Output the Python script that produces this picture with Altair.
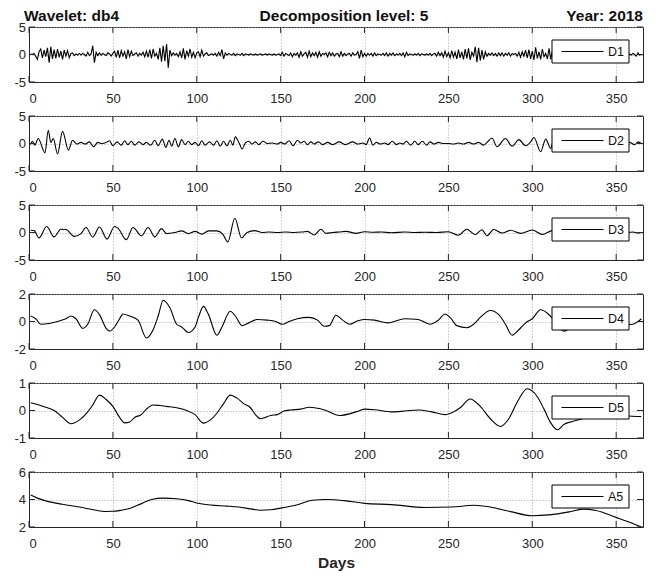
import altair as alt
import pandas as pd

title_left = "Wavelet: db4"
title_mid = "Decomposition level: 5"
title_right = "Year: 2018"
x_title = "Days"
series_names = ["D1", "D2", "D3", "D4", "D5", "A5"]
x_ticks = [0, 50, 100, 150, 200, 250, 300, 350]
x_domain = [0, 366]
y_domains = [[-5, 5], [-5, 5], [-5, 5], [-2, 2], [-1, 1], [2, 6]]
y_ticks = [[-5, 0, 5], [-5, 0, 5], [-5, 0, 5], [-2, 0, 2], [-1, 0, 1], [2, 4, 6]]

# D1: daily values
d1_vals = [
    0.1, 0.0, 0.2, -0.3, -0.9, 0.5, 1.0, -0.6, 0.8, -0.4,
    1.2, -1.5, 1.4, -0.8, 0.9, -0.7, 1.0, -0.5, 0.6, -0.9,
    0.8, -0.3, 0.7, -0.6, 0.2, 0.3, -0.2, 0.1, -0.1, 0.2,
    -0.1, 0.2, 0.0, -0.3, 0.4, -0.2, 0.1, 1.6, -1.5, 0.4,
    -0.2, 0.3, -0.1, 0.2, 0.0, -0.2, 0.3, 0.1, -0.3, 0.2,
    0.6, -0.5, 0.8, -0.6, 0.7, -0.3, 0.5, -0.8, 0.9, -0.4,
    0.6, -0.2, 0.1, 0.3, -0.3, 0.2, -0.1, 0.4, -0.4, 0.6,
    -0.5, 0.9, -0.7, 1.0, -0.3, 0.2, -0.9, 1.2, -1.3, 1.6,
    -1.2, 1.9, -2.4, 0.8, -0.2, 0.3, -0.1, 0.2, -0.4, 0.5,
    -0.6, 1.1, -0.9, 0.7, -0.3, 1.0, -0.5, 0.4, -0.6, 0.3,
    0.5, -0.4, 0.8, -0.3, 0.1, 0.3, -0.2, 0.0, 0.1, -0.1,
    0.2, -0.3, 0.4, -0.2, 0.9, -0.8, 0.3, -0.1, 0.2, 0.0,
    -0.1, 0.2, -0.2, 0.1, 0.0, -0.1, 0.2, -0.2, 0.1, 0.0,
    -0.1, 0.1, 0.0, -0.1, 0.1, -0.1, 0.0, 0.1, -0.1, 0.0,
    0.1, -0.1, 0.1, 0.0, -0.1, 0.1, -0.1, 0.0, 0.1, -0.2,
    0.4, -0.3, 0.2, 0.0, -0.2, 0.3, -0.4, 0.2, -0.1, 0.3,
    -0.5, 0.5, -0.3, 0.1, 0.4, -0.5, 0.6, -0.4, 0.3, -0.2,
    0.4, -0.5, 0.5, -0.3, 0.2, 0.0, 0.3, -0.4, 0.4, -0.2,
    0.3, -0.3, 0.1, 0.2, -0.4, 0.5, -0.3, 0.2, -0.2, 0.1,
    0.2, -0.3, 0.3, -0.1, 0.0, 0.5, -0.7, 0.8, -0.4, 0.2,
    -0.3, 0.2, -0.1, 0.2, -0.3, 0.3, -0.2, 0.1, 0.0, -0.1,
    0.2, -0.2, 0.3, -0.3, 0.2, -0.1, 0.3, -0.2, 0.1, -0.1,
    0.2, -0.2, 0.3, -0.4, 0.4, -0.2, 0.1, 0.0, -0.1, 0.1,
    -0.1, 0.2, -0.2, 0.1, 0.0, -0.1, 0.1, -0.1, 0.2, -0.2,
    0.1, 0.2, -0.3, 0.4, -0.2, 0.3, -0.5, 0.6, -0.4, 0.3,
    -0.6, 0.7, -0.5, 0.4, -0.8, 0.9, -0.6, 0.5, -0.9, 1.0,
    -0.7, 1.1, -1.0, 0.4, -0.3, 1.4, -1.4, 1.2, -1.1, 0.8,
    -0.9, 0.5, -0.3, 0.2, -0.1, 0.3, -0.2, 0.2, -0.3, 0.3,
    -0.2, 0.3, -0.3, 0.2, -0.1, 0.3, -0.3, 0.2, 0.0, 0.2,
    -0.3, 0.4, -0.5, 0.5, -0.3, 0.8, -0.6, 0.9, -0.8, 0.6,
    -1.0, 1.3, -0.7, 0.5, -0.9, 1.0, -0.4, 0.2, -0.8, 1.1,
    -0.9, 0.7, -0.6, 0.8, -0.5, 0.4, -0.6, 0.5, -0.3, 0.4,
    -0.4, 0.3, -0.2, 0.3, -0.3, 0.2, -0.2, 0.3, -0.3, 0.2,
    -0.2, 0.3, -0.3, 0.2, -0.1, 0.2, -0.3, 0.3, -0.2, 0.1,
    -0.2, 0.2, -0.1, 0.2, -0.2, 0.1, -0.2, 0.2, -0.1, 0.1,
    -0.2, 0.2, -0.2, 0.1, -0.1, 0.2, -0.2, 0.1, -0.1, 0.2,
    0.0, -0.3, 0.3, -0.1, 0.0,
]
d1_days = list(range(1, len(d1_vals) + 1))

# D2..A5: (day, value) read at turning points
d2_points = [
    (1, -0.2), (2, 0.4), (3.5, -0.3), (5.5, 0.9), (9.5, -1.7), (11.5, 2.4), (13, 0.2),
    (14.5, 0.9), (17, -1.9), (20, 2.2), (23.5, -1.2), (26, 0.6), (28.5, -0.1), (31, 0.2),
    (33.5, -0.1), (36, 0.3), (38.5, -0.6), (41, 0.2), (43.5, 0.0), (46, 0.2), (48, 0.5),
    (50, -0.4), (52.5, 0.3), (55, -0.3), (57, 0.5), (59, -0.2), (61, 0.4), (63, -0.3),
    (65.5, 0.3), (68, -0.2), (70, 0.2), (72.5, -0.3), (75, 0.6), (77, -0.4), (79.5, 0.8),
    (81.5, -0.7), (83.5, 0.6), (85, -0.5), (87, 0.9), (89, -0.6), (91, 0.7), (93, -0.2),
    (95, 0.4), (97, -0.2), (99, 0.2), (101, -0.4), (103, 0.5), (105, -0.3), (107.5, 0.3),
    (110, -0.3), (112, 0.5), (114, -0.5), (116, 0.4), (118, -0.4), (120, 0.6), (121.5, -0.3),
    (123, 1.2), (125.5, -0.1), (127, -1.0), (129, 0.1), (131, 0.4), (133, -0.1), (135, 0.3),
    (137, -0.2), (139.5, 0.4), (142, 0.0), (145, 0.1), (148, -0.1), (150, 0.2), (152.5, -0.1),
    (155, 0.5), (157.5, -0.4), (160, 0.6), (162, 0.1), (164, 0.4), (166, -0.2), (168, 0.3),
    (170, -0.1), (172.5, 0.3), (175, -0.2), (178, 0.2), (181, -0.2), (185, 0.3), (188.5, -0.2),
    (193, 0.3), (196, -0.1), (199, 0.1), (201, -0.2), (203, 1.0), (205, -0.3), (207, 0.2),
    (209.5, -0.1), (212, 0.1), (214, -0.2), (216.5, 0.4), (219, -0.2), (221, 0.1), (223, -0.1),
    (225, 0.4), (227.5, -0.3), (230, 0.4), (232, -0.2), (234.5, 0.4), (237, -0.3), (239, 0.3),
    (241.5, -0.1), (244, 0.2), (247, 0.0), (250, 0.0), (253, -0.1), (256, 0.1), (259, -0.1),
    (262, 0.2), (265, -0.1), (268, 0.2), (271, -0.3), (273, 0.2), (276, 1.0), (279, -0.6),
    (284, 0.9), (288, -0.5), (292, 0.7), (296, -0.4), (299, 0.3), (301, 1.1), (305, -1.5),
    (308, 0.8), (311, -0.9), (313, 1.0), (316, -0.5), (319, 0.6), (322, -0.4), (326, 0.4),
    (330, -0.3), (334, 0.3), (338, -0.2), (342, 0.2), (346, -0.2), (350, 0.2), (354, -0.2),
    (358, 0.2), (361, -0.2), (363, 0.3), (365, 0.0),
]
d3_points = [
    (1, 0.4), (3, 0.35), (6, -1.0), (10.5, 1.1), (15, -0.8), (19, 0.6), (22, 0.55), (27, -0.7),
    (31, -0.2), (34, 0.9), (38, -0.85), (42, 1.0), (46.5, -1.2), (51, 1.1), (53, 0.8),
    (58, -1.3), (62, 0.9), (67, -0.6), (71, 0.9), (75, -0.8), (79, 0.7), (82, -0.2), (87, 0.0),
    (91, 0.3), (95, -0.2), (99, 0.2), (103, -0.3), (107, 0.3), (112, 0.3), (115.5, -0.3),
    (118.5, -1.7), (122.7, 2.6), (126.7, -1.0), (130, 0.0), (134.5, 0.35), (139, 0.0),
    (143, 0.1), (148, 0.0), (153, 0.1), (158, 0.0), (163, 0.1), (166, 0.2), (170, -0.45),
    (174, 0.6), (177, -0.15), (181, 0.0), (185, 0.1), (189, 0.2), (195, -0.15), (200, 0.15),
    (205, 0.05), (210, 0.1), (216, -0.05), (224, 0.1), (230, 0.0), (236, 0.05), (243, 0.0),
    (250, 0.15), (256, -0.5), (261, 0.6), (266, -0.4), (270, 0.5), (273, -0.6), (277, 0.55),
    (282, -0.1), (287, 0.4), (293, -0.15), (300, 0.45), (306, -0.35), (312, 0.35), (318, -0.3),
    (324, 0.3), (330, -0.2), (336, 0.2), (342, -0.2), (348, 0.2), (354, -0.1), (360, 0.1),
    (363, -0.1), (365, 0.0),
]
d4_points = [
    (1, 0.4), (4, 0.2), (7, -0.2), (12, -0.15), (17, 0.0), (22, 0.2), (25, 0.4), (28, 0.2),
    (32, -0.5), (35, -0.2), (39, 0.85), (42, 0.5), (46, -0.5), (48, -0.7), (51, -0.4),
    (54, 0.2), (56, 0.55), (60, 0.4), (65, 0.1), (70, -1.2), (74, -0.6), (77, 0.4), (80, 1.55),
    (84, 1.0), (88, -0.2), (91, -0.4), (95, -0.8), (99, -0.4), (101, 0.3), (104, 1.1),
    (107, 0.5), (112, -1.0), (115, -0.4), (120, 0.75), (123, 0.4), (127, -0.3), (131, -0.1),
    (136, 0.15), (142, 0.1), (147, 0.0), (151, -0.2), (155, 0.0), (160, 0.2), (167, 0.3),
    (172, 0.1), (176, -0.35), (179, -0.3), (183, 0.45), (187, 0.1), (191, -0.2), (196, 0.05),
    (200, 0.15), (206, 0.1), (214, -0.1), (224, 0.2), (232, 0.15), (239, -0.2), (244, 0.1),
    (248, 0.55), (251, 0.3), (255, -0.3), (261, -0.45), (265, -0.2), (269, 0.3), (275, 0.8),
    (280, 0.5), (284, -0.2), (288, -1.0), (292, -0.6), (296, -0.1), (300, 0.2), (305, 0.85),
    (309, 0.6), (313, 0.1), (319, -0.7), (324, -0.4), (330, 0.1), (336, 0.3), (342, 0.0),
    (348, -0.3), (354, -0.25), (360, -0.2), (363, 0.0), (365, 0.2),
]
d5_points = [
    (1, 0.28), (5, 0.22), (10, 0.12), (15, 0.0), (20, -0.25), (25, -0.48), (30, -0.35),
    (35, -0.05), (38, 0.2), (42, 0.56), (46, 0.4), (50, 0.15), (54, -0.25), (57, -0.45),
    (60, -0.42), (63, -0.25), (67, -0.15), (70, 0.05), (74, 0.2), (78, 0.18), (82, 0.15),
    (88, 0.1), (94, 0.0), (99, -0.15), (104, -0.46), (108, -0.35), (112, -0.1), (116, 0.25),
    (120, 0.56), (124, 0.45), (128, 0.25), (132, 0.1), (135, -0.15), (138, -0.3), (141, -0.25),
    (144, -0.18), (148, -0.15), (152, -0.02), (156, 0.02), (162, 0.05), (167, 0.12),
    (172, 0.08), (177, 0.0), (185, -0.18), (195, -0.05), (200, 0.05), (206, 0.03),
    (216, -0.05), (224, -0.02), (232, 0.02), (240, -0.05), (248, -0.15), (253, -0.05),
    (257, 0.1), (263, 0.42), (269, 0.15), (275, -0.3), (281, -0.58), (286, -0.3), (291, 0.3),
    (297, 0.79), (303, 0.5), (307, 0.05), (311, -0.45), (315, -0.7), (319, -0.5), (324, -0.4),
    (330, -0.3), (340, -0.1), (350, -0.15), (358, -0.2), (365, -0.22),
]
a5_points = [
    (1, 4.32), (5, 4.1), (10, 3.9), (20, 3.65), (30, 3.45), (40, 3.22), (45, 3.13), (50, 3.14),
    (55, 3.22), (60, 3.35), (67, 3.7), (73, 4.0), (80, 4.1), (88, 4.05), (95, 3.92),
    (100, 3.75), (108, 3.6), (118, 3.52), (125, 3.45), (132, 3.32), (138, 3.22), (144, 3.25),
    (150, 3.37), (160, 3.62), (169, 3.95), (177, 4.0), (189, 3.9), (200, 3.72), (216, 3.63),
    (236, 3.42), (252, 3.45), (265, 3.58), (275, 3.45), (287, 3.12), (300, 2.82), (310, 2.88),
    (322, 3.1), (330, 3.3), (338, 3.2), (350, 2.7), (358, 2.35), (365, 2.0),
]

W, H = 614, 55
FONT = "Liberation Sans"
INK = "#262626"
TITLE_SIZE = 15.5
LEG_R = W - 14  # legend box right edge, 14 px inside the plot's right border


def series_frame(points):
    return pd.DataFrame({"day": [p[0] for p in points], "value": [p[1] for p in points]})


frames = [
    pd.DataFrame({"day": d1_days, "value": d1_vals}),
    series_frame(d2_points),
    series_frame(d3_points),
    series_frame(d4_points),
    series_frame(d5_points),
    series_frame(a5_points),
]
interps = ["linear", "monotone", "monotone", "monotone", "monotone", "monotone"]


def make_panel(i):
    name = series_names[i]
    first = i == 0
    last = i == len(series_names) - 1
    xscale = alt.Scale(domain=x_domain, nice=False, zero=False)
    yscale = alt.Scale(domain=y_domains[i], nice=False, zero=False)

    if last:
        xaxis = alt.Axis(values=x_ticks, grid=True, ticks=False, tickSize=0, labelPadding=10,
                         title=x_title, titleFont=FONT, titleFontSize=TITLE_SIZE,
                         titleFontWeight="bold", titleColor=INK,
                         titleBaseline="alphabetic", titleY=40)
    else:
        xaxis = alt.Axis(values=x_ticks, grid=True, ticks=False, tickSize=0,
                         labelPadding=10, title=None)
    yaxis = alt.Axis(values=y_ticks[i], labelExpr="'' + round(datum.value)", grid=True,
                     ticks=False, tickSize=0, labelPadding=3.5, title=None)

    line = alt.Chart(frames[i]).mark_line(
        color="black", strokeWidth=1.1, interpolate=interps[i], clip=True
    ).encode(
        x=alt.X("day:Q", scale=xscale, axis=xaxis),
        y=alt.Y("value:Q", scale=yscale, axis=yaxis),
    )

    xt = pd.DataFrame({"day": x_ticks})
    yt = pd.DataFrame({"value": y_ticks[i]})
    xt_bottom = alt.Chart(xt).mark_rule(color=INK, strokeWidth=1).encode(
        x=alt.X("day:Q", scale=xscale, axis=xaxis), y=alt.value(H), y2=alt.value(H - 6))
    xt_top = alt.Chart(xt).mark_rule(color=INK, strokeWidth=1).encode(
        x=alt.X("day:Q", scale=xscale, axis=xaxis), y=alt.value(0), y2=alt.value(6))
    yt_left = alt.Chart(yt).mark_rule(color=INK, strokeWidth=1).encode(
        y=alt.Y("value:Q", scale=yscale, axis=yaxis), x=alt.value(0), x2=alt.value(6))
    yt_right = alt.Chart(yt).mark_rule(color=INK, strokeWidth=1).encode(
        y=alt.Y("value:Q", scale=yscale, axis=yaxis), x=alt.value(W - 6), x2=alt.value(W))

    leg_df = pd.DataFrame({"name": [name]})
    leg_box = alt.Chart(leg_df).mark_rect(fill="white", stroke="black", strokeWidth=1).encode(
        x=alt.value(LEG_R - 77), x2=alt.value(LEG_R), y=alt.value(13), y2=alt.value(36))
    leg_line = alt.Chart(leg_df).mark_rule(color="black", strokeWidth=1.1).encode(
        x=alt.value(LEG_R - 67.5), x2=alt.value(LEG_R - 25.5), y=alt.value(24.5))
    leg_text = alt.Chart(leg_df).mark_text(
        align="left", baseline="middle", font=FONT, fontSize=12.5, color="#111111"
    ).encode(x=alt.value(LEG_R - 21), y=alt.value(25), text="name:N")

    layers = [line, xt_bottom, xt_top, yt_left, yt_right, leg_box, leg_line, leg_text]

    if first:
        t_df = pd.DataFrame({"l": [title_left], "m": [title_mid], "r": [title_right]})
        tl = alt.Chart(t_df).mark_text(align="left", baseline="alphabetic", font=FONT,
                                       fontSize=TITLE_SIZE, fontWeight="bold",
                                       color="#111111").encode(
            x=alt.value(-5), y=alt.value(-6), text="l:N")
        tm = alt.Chart(t_df).mark_text(align="center", baseline="alphabetic", font=FONT,
                                       fontSize=TITLE_SIZE, fontWeight="bold",
                                       color="#111111").encode(
            x=alt.value(315), y=alt.value(-6), text="m:N")
        tr = alt.Chart(t_df).mark_text(align="right", baseline="alphabetic", font=FONT,
                                       fontSize=TITLE_SIZE, fontWeight="bold",
                                       color="#111111").encode(
            x=alt.value(W), y=alt.value(-6), text="r:N")
        layers += [tl, tm, tr]

    return alt.layer(*layers).properties(width=W, height=H)


panels = [make_panel(i) for i in range(len(series_names))]

chart = alt.vconcat(*panels, spacing=34, bounds="flush").properties(
    padding={"left": 5, "top": 0, "right": 0, "bottom": 0}
).configure_view(
    stroke=INK, strokeWidth=1
).configure_axis(
    labelFont=FONT, labelFontSize=13, labelColor=INK, tickSize=0,
    gridColor="#a8a8a8", gridDash=[1, 2], gridWidth=1, gridOpacity=1,
    domainColor=INK, domainWidth=1,
)

chart.save("out.html", embed_options={"renderer": "svg", "actions": False})
